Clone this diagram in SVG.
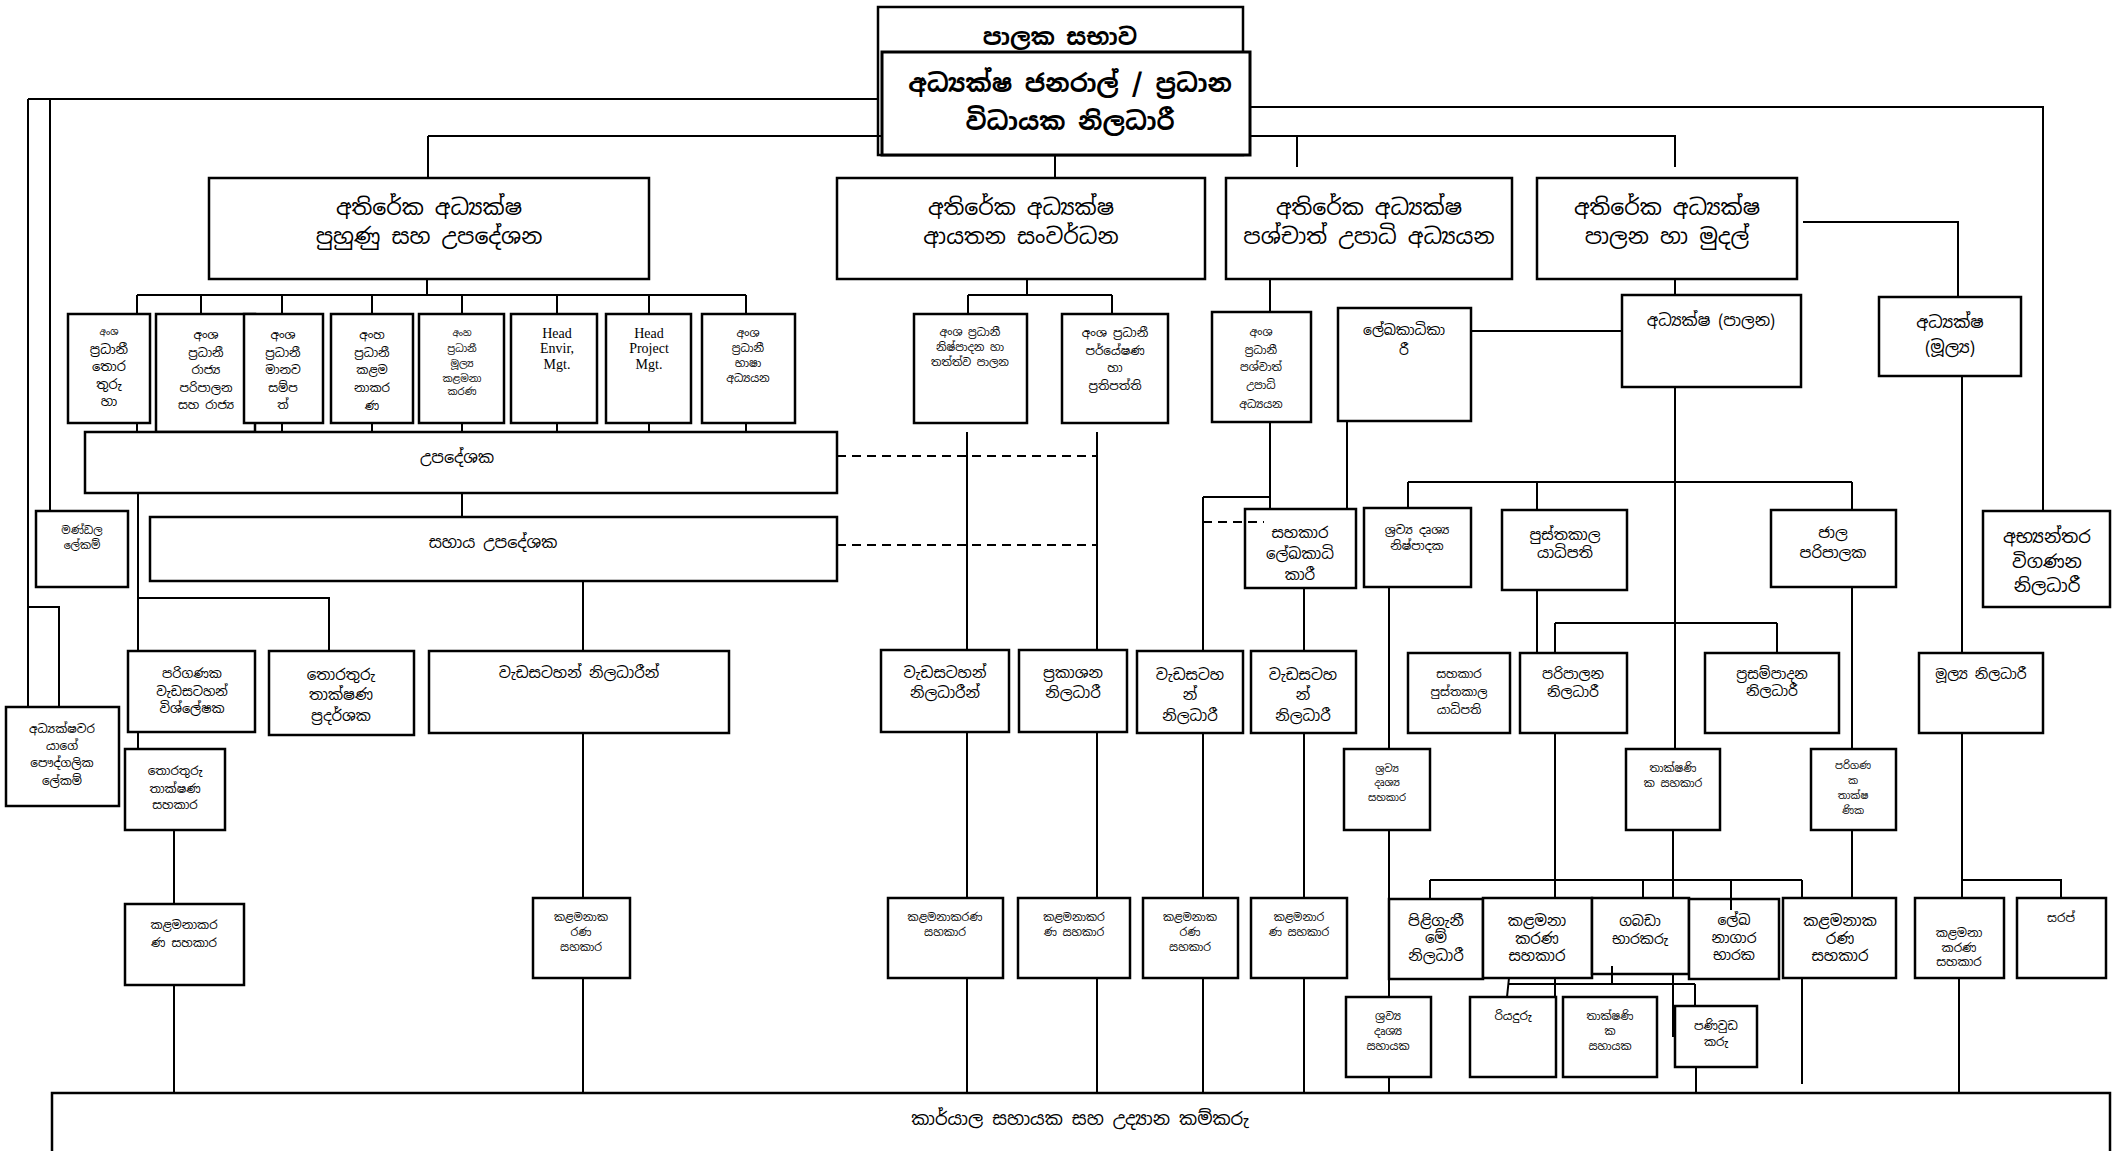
<svg xmlns="http://www.w3.org/2000/svg" width="2119" height="1151" viewBox="0 0 2119 1151">
<style>
.box{fill:#fff;stroke:#000;stroke-width:2.5}
.c{fill:none;stroke:#000;stroke-width:2}
.d{fill:none;stroke:#000;stroke-width:2;stroke-dasharray:9 6}
text{font-family:"Noto Sans Sinhala","Noto Serif Sinhala","Iskoola Pota","Noto Sans",sans-serif;text-anchor:middle;dominant-baseline:central;fill:#000}
.en{font-family:"Liberation Serif","Times New Roman",serif}
.b{font-weight:bold}
.s9{font-size:9px}.s10{font-size:10px}.s11{font-size:11px}.s12{font-size:12px}.s13{font-size:13px}.s14{font-size:14px}.s15{font-size:15px}.s16{font-size:16px}.s17{font-size:17px}.s18{font-size:18px}.s22{font-size:22px}.s23{font-size:23px}.s25{font-size:25px}
</style>
<rect width="2119" height="1151" fill="#fff"/>
<g id="nodes">
<g id="n-board"><rect class="box" x="878" y="7" width="365" height="148"/><text class="b s23" x="1060" y="37">පාලක සභාව</text></g>
<g id="n-dg"><rect class="box" x="882" y="52" width="368" height="103" style="stroke-width:3"/><text class="b s25"><tspan x="1070" y="83">අධ්&#x200D;යක්ෂ ජනරාල් / ප්&#x200D;රධාන</tspan><tspan x="1070" y="121">විධායක නිලධාරී</tspan></text></g>
<g id="n-training"><rect class="box" x="209" y="178" width="440" height="101"/><text class="s22"><tspan x="429" y="207">අතිරේක අධ්&#x200D;යක්ෂ</tspan><tspan x="429" y="236">පුහුණු සහ උපදේශන</tspan></text></g>
<g id="n-instdev"><rect class="box" x="837" y="178" width="368" height="101"/><text class="s22"><tspan x="1021" y="207">අතිරේක අධ්&#x200D;යක්ෂ</tspan><tspan x="1021" y="236">ආයතන සංවර්ධන</tspan></text></g>
<g id="n-postgrad"><rect class="box" x="1226" y="178" width="286" height="101"/><text class="s22"><tspan x="1369" y="207">අතිරේක අධ්&#x200D;යක්ෂ</tspan><tspan x="1369" y="236">පශ්චාත් උපාධි අධ්&#x200D;යයන</tspan></text></g>
<g id="n-admfin"><rect class="box" x="1537" y="178" width="260" height="101"/><text class="s22"><tspan x="1667" y="207">අතිරේක අධ්&#x200D;යක්ෂ</tspan><tspan x="1667" y="236">පාලන හා මුදල්</tspan></text></g>
<g id="n-h-it"><rect class="box" x="68" y="314" width="82" height="109"/><text class="s13"><tspan x="109" y="332" class="s9">අංශ</tspan><tspan x="109" y="349">ප්&#x200D;රධානී</tspan><tspan x="109" y="366">තොර</tspan><tspan x="109" y="384">තුරු</tspan><tspan x="109" y="401">හා</tspan></text></g>
<g id="n-h-pubadm"><rect class="box" x="156" y="314" width="99" height="118"/><text class="s12"><tspan x="206" y="335">අංශ</tspan><tspan x="206" y="353">ප්&#x200D;රධානී</tspan><tspan x="206" y="370">රාජ්&#x200D;ය</tspan><tspan x="206" y="388">පරිපාලන</tspan><tspan x="206" y="405">සහ රාජ්&#x200D;ය</tspan></text></g>
<g id="n-h-hr"><rect class="box" x="244" y="314" width="79" height="109"/><text class="s12"><tspan x="283" y="335">අංශ</tspan><tspan x="283" y="353">ප්&#x200D;රධානී</tspan><tspan x="283" y="370">මානව</tspan><tspan x="283" y="388">සම්ප</tspan><tspan x="283" y="405">ත්</tspan></text></g>
<g id="n-h-mgmt"><rect class="box" x="331" y="314" width="82" height="109"/><text class="s12"><tspan x="372" y="335">අංහ</tspan><tspan x="372" y="353">ප්&#x200D;රධානී</tspan><tspan x="372" y="370">කළම</tspan><tspan x="372" y="388">නාකර</tspan><tspan x="372" y="406">ණ</tspan></text></g>
<g id="n-h-finmgmt"><rect class="box" x="419" y="314" width="85" height="109"/><text class="s10"><tspan x="462" y="333" class="s9">අංහ</tspan><tspan x="462" y="348">ප්&#x200D;රධානී</tspan><tspan x="462" y="363">මූල්&#x200D;ය</tspan><tspan x="462" y="378">කළමනා</tspan><tspan x="462" y="391">කරණ</tspan></text></g>
<g id="n-h-env"><rect class="box" x="511" y="314" width="86" height="109"/><text class="en s14"><tspan x="557" y="333">Head</tspan><tspan x="557" y="348">Envir,</tspan><tspan x="557" y="364">Mgt.</tspan></text></g>
<g id="n-h-proj"><rect class="box" x="606" y="314" width="85" height="109"/><text class="en s14"><tspan x="649" y="333">Head</tspan><tspan x="649" y="348">Project</tspan><tspan x="649" y="364">Mgt.</tspan></text></g>
<g id="n-h-lang"><rect class="box" x="702" y="314" width="93" height="109"/><text class="s11"><tspan x="748" y="333">අංශ</tspan><tspan x="748" y="348">ප්&#x200D;රධානී</tspan><tspan x="748" y="363">භාෂා</tspan><tspan x="748" y="378">අධ්&#x200D;යයන</tspan></text></g>
<g id="n-h-prodqc"><rect class="box" x="914" y="314" width="113" height="109"/><text class="s11"><tspan x="970" y="332">අංශ ප්&#x200D;රධානී</tspan><tspan x="970" y="347">නිෂ්පාදන හා</tspan><tspan x="970" y="362">තත්ත්ව පාලන</tspan></text></g>
<g id="n-h-research"><rect class="box" x="1062" y="314" width="106" height="109"/><text class="s12"><tspan x="1115" y="333">අංශ ප්&#x200D;රධානී</tspan><tspan x="1115" y="351">පර්යේෂණ</tspan><tspan x="1115" y="368">හා</tspan><tspan x="1115" y="386">ප්&#x200D;රතිපත්ති</tspan></text></g>
<g id="n-h-pg"><rect class="box" x="1212" y="312" width="99" height="110"/><text class="s11"><tspan x="1261" y="332">අංශ</tspan><tspan x="1261" y="350">ප්&#x200D;රධානී</tspan><tspan x="1261" y="367">පශ්චාත්</tspan><tspan x="1261" y="385">උපාධි</tspan><tspan x="1261" y="404">අධ්&#x200D;යයන</tspan></text></g>
<g id="n-registrar"><rect class="box" x="1338" y="308" width="133" height="113"/><text class="s14"><tspan x="1404" y="330">ලේඛකාධිකා</tspan><tspan x="1404" y="350">රී</tspan></text></g>
<g id="n-dir-adm"><rect class="box" x="1622" y="295" width="179" height="92"/><text class="s16" x="1711" y="320">අධ්&#x200D;යක්ෂ (පාලන)</text></g>
<g id="n-dir-fin"><rect class="box" x="1879" y="297" width="142" height="79"/><text class="s17"><tspan x="1950" y="322">අධ්&#x200D;යක්ෂ</tspan><tspan x="1950" y="347">(මූල්&#x200D;ය)</tspan></text></g>
<g id="n-consultant"><rect class="box" x="85" y="432" width="752" height="61"/><text class="s16" x="457" y="457">උපදේශක</text></g>
<g id="n-asst-consultant"><rect class="box" x="150" y="517" width="687" height="64"/><text class="s16" x="493" y="542">සහාය උපදේශක</text></g>
<g id="n-board-sec"><rect class="box" x="36" y="511" width="92" height="76"/><text class="s11"><tspan x="82" y="530">මණ්ඩල</tspan><tspan x="82" y="545">ලේකම්</tspan></text></g>
<g id="n-ps"><rect class="box" x="6" y="707" width="113" height="99"/><text class="s12"><tspan x="62" y="729">අධ්&#x200D;යක්ෂවර</tspan><tspan x="62" y="746">යාගේ</tspan><tspan x="62" y="763">පෞද්ගලික</tspan><tspan x="62" y="781">ලේකම්</tspan></text></g>
<g id="n-sysanalyst"><rect class="box" x="128" y="651" width="127" height="81"/><text class="s13"><tspan x="192" y="673">පරිගණක</tspan><tspan x="192" y="691">වැඩසටහන්</tspan><tspan x="192" y="708">විශ්ලේෂක</tspan></text></g>
<g id="n-itdemo"><rect class="box" x="269" y="651" width="145" height="84"/><text class="s15"><tspan x="341" y="674">තොරතුරු</tspan><tspan x="341" y="694">තාක්ෂණ</tspan><tspan x="341" y="715">ප්&#x200D;රදර්ශක</tspan></text></g>
<g id="n-progoff1"><rect class="box" x="429" y="651" width="300" height="82"/><text class="s15" x="579" y="672">වැඩසටහන් නිලධාරීන්</text></g>
<g id="n-progoff2"><rect class="box" x="881" y="650" width="128" height="82"/><text class="s15"><tspan x="945" y="672">වැඩසටහන්</tspan><tspan x="945" y="692">නිලධාරීන්</tspan></text></g>
<g id="n-puboff"><rect class="box" x="1019" y="650" width="108" height="82"/><text class="s15"><tspan x="1073" y="672">ප්&#x200D;රකාශන</tspan><tspan x="1073" y="692">නිලධාරී</tspan></text></g>
<g id="n-asst-reg"><rect class="box" x="1245" y="509" width="111" height="79"/><text class="s15"><tspan x="1300" y="532">සහකාර</tspan><tspan x="1300" y="553">ලේඛකාධි</tspan><tspan x="1300" y="574">කාරී</tspan></text></g>
<g id="n-progoff3"><rect class="box" x="1137" y="651" width="106" height="82"/><text class="s15"><tspan x="1190" y="674">වැඩසටහ</tspan><tspan x="1190" y="694">න්</tspan><tspan x="1190" y="715">නිලධාරී</tspan></text></g>
<g id="n-progoff4"><rect class="box" x="1251" y="651" width="105" height="82"/><text class="s15"><tspan x="1303" y="674">වැඩසටහ</tspan><tspan x="1303" y="694">න්</tspan><tspan x="1303" y="715">නිලධාරී</tspan></text></g>
<g id="n-avprod"><rect class="box" x="1364" y="508" width="107" height="79"/><text class="s12"><tspan x="1417" y="530">ශ්&#x200D;රව්&#x200D;ය දෘශ්&#x200D;ය</tspan><tspan x="1417" y="546">නිෂ්පාදක</tspan></text></g>
<g id="n-librarian"><rect class="box" x="1502" y="510" width="125" height="80"/><text class="s15"><tspan x="1565" y="534">පුස්තකාල</tspan><tspan x="1565" y="552">යාධිපති</tspan></text></g>
<g id="n-netadmin"><rect class="box" x="1771" y="510" width="125" height="77"/><text class="s15"><tspan x="1833" y="532">ජාල</tspan><tspan x="1833" y="552">පරිපාලක</tspan></text></g>
<g id="n-auditor"><rect class="box" x="1983" y="511" width="127" height="96"/><text class="s18"><tspan x="2047" y="536">අභ්&#x200D;යන්තර</tspan><tspan x="2047" y="561">විගණන</tspan><tspan x="2047" y="585">නිලධාරී</tspan></text></g>
<g id="n-asst-lib"><rect class="box" x="1408" y="653" width="102" height="80"/><text class="s12"><tspan x="1459" y="674">සහකාර</tspan><tspan x="1459" y="692">පුස්තකාල</tspan><tspan x="1459" y="710">යාධිපති</tspan></text></g>
<g id="n-adminoff"><rect class="box" x="1520" y="653" width="107" height="80"/><text class="s14"><tspan x="1573" y="674">පරිපාලන</tspan><tspan x="1573" y="692">නිලධාරී</tspan></text></g>
<g id="n-procure"><rect class="box" x="1705" y="653" width="134" height="80"/><text class="s14"><tspan x="1772" y="674">ප්&#x200D;රසම්පාදන</tspan><tspan x="1772" y="691">නිලධාරී</tspan></text></g>
<g id="n-finoff"><rect class="box" x="1919" y="653" width="124" height="80"/><text class="s14" x="1981" y="674">මූල්&#x200D;ය නිලධාරී</text></g>
<g id="n-itasst"><rect class="box" x="125" y="749" width="100" height="81"/><text class="s12"><tspan x="175" y="771">තොරතුරු</tspan><tspan x="175" y="789">තාක්ෂණ</tspan><tspan x="175" y="805">සහකාර</tspan></text></g>
<g id="n-avasst"><rect class="box" x="1344" y="749" width="86" height="81"/><text class="s10"><tspan x="1387" y="768">ශ්&#x200D;රව්&#x200D;ය</tspan><tspan x="1387" y="782">දෘශ්&#x200D;ය</tspan><tspan x="1387" y="797">සහකාර</tspan></text></g>
<g id="n-techasst"><rect class="box" x="1626" y="749" width="94" height="81"/><text class="s11"><tspan x="1673" y="768">තාක්ෂණි</tspan><tspan x="1673" y="783">ක සහකාර</tspan></text></g>
<g id="n-comptech"><rect class="box" x="1811" y="749" width="85" height="81"/><text class="s10"><tspan x="1853" y="765">පරිගණ</tspan><tspan x="1853" y="780">ක</tspan><tspan x="1853" y="795">තාක්ෂ</tspan><tspan x="1853" y="810">ණික</tspan></text></g>
<g id="n-ma1"><rect class="box" x="125" y="904" width="119" height="81"/><text class="s12"><tspan x="184" y="925">කළමනාකර</tspan><tspan x="184" y="943">ණ සහකාර</tspan></text></g>
<g id="n-ma2"><rect class="box" x="533" y="898" width="97" height="80"/><text class="s11"><tspan x="581" y="917">කළමනාක</tspan><tspan x="581" y="932">රණ</tspan><tspan x="581" y="947">සහකාර</tspan></text></g>
<g id="n-ma3"><rect class="box" x="888" y="898" width="115" height="80"/><text class="s11"><tspan x="945" y="917">කළමනාකරණ</tspan><tspan x="945" y="932">සහකාර</tspan></text></g>
<g id="n-ma4"><rect class="box" x="1018" y="898" width="112" height="80"/><text class="s11"><tspan x="1074" y="917">කළමනාකර</tspan><tspan x="1074" y="932">ණ සහකාර</tspan></text></g>
<g id="n-ma5"><rect class="box" x="1143" y="898" width="95" height="80"/><text class="s11"><tspan x="1190" y="917">කළමනාක</tspan><tspan x="1190" y="932">රණ</tspan><tspan x="1190" y="947">සහකාර</tspan></text></g>
<g id="n-ma6"><rect class="box" x="1251" y="898" width="96" height="80"/><text class="s11"><tspan x="1299" y="917">කළමනාර</tspan><tspan x="1299" y="932">ණ සහකාර</tspan></text></g>
<g id="n-reception"><rect class="box" x="1389" y="899" width="94" height="80"/><text class="s15"><tspan x="1436" y="920">පිළිගැනී</tspan><tspan x="1436" y="937">මේ</tspan><tspan x="1436" y="955">නිලධාරී</tspan></text></g>
<g id="n-ma7"><rect class="box" x="1483" y="898" width="109" height="80"/><text class="s15"><tspan x="1537" y="920">කළමනා</tspan><tspan x="1537" y="938">කරණ</tspan><tspan x="1537" y="955">සහකාර</tspan></text></g>
<g id="n-storekeeper"><rect class="box" x="1592" y="898" width="97" height="76"/><text class="s14"><tspan x="1640" y="921">ගබඩා</tspan><tspan x="1640" y="939">භාරකරු</tspan></text></g>
<g id="n-archivist"><rect class="box" x="1689" y="899" width="90" height="80"/><text class="s14"><tspan x="1734" y="920">ලේඛ</tspan><tspan x="1734" y="938">නාගාර</tspan><tspan x="1734" y="955">භාරක</tspan></text></g>
<g id="n-ma8"><rect class="box" x="1783" y="898" width="113" height="80"/><text class="s15"><tspan x="1840" y="920">කළමනාක</tspan><tspan x="1840" y="938">රණ</tspan><tspan x="1840" y="955">සහකාර</tspan></text></g>
<g id="n-ma9"><rect class="box" x="1915" y="898" width="89" height="80"/><text class="s12"><tspan x="1959" y="933">කළමනා</tspan><tspan x="1959" y="948">කරණ</tspan><tspan x="1959" y="962">සහකාර</tspan></text></g>
<g id="n-saraf"><rect class="box" x="2017" y="898" width="89" height="80"/><text class="s12" x="2061" y="918">සරප්</text></g>
<g id="n-avaid"><rect class="box" x="1346" y="997" width="85" height="80"/><text class="s11"><tspan x="1388" y="1016">ශ්&#x200D;රව්&#x200D;ය</tspan><tspan x="1388" y="1031">දෘශ්&#x200D;ය</tspan><tspan x="1388" y="1046">සහායක</tspan></text></g>
<g id="n-driver"><rect class="box" x="1470" y="997" width="86" height="80"/><text class="s12" x="1513" y="1016">රියදුරු</text></g>
<g id="n-techaid"><rect class="box" x="1563" y="997" width="94" height="80"/><text class="s11"><tspan x="1610" y="1016">තාක්ෂණි</tspan><tspan x="1610" y="1031">ක</tspan><tspan x="1610" y="1046">සහායක</tspan></text></g>
<g id="n-messenger"><rect class="box" x="1675" y="1006" width="82" height="61"/><text class="s12"><tspan x="1716" y="1026">පණිවුඩ</tspan><tspan x="1716" y="1042">කරු</tspan></text></g>
<g id="n-officeaides"><rect class="box" x="52" y="1093" width="2058" height="80"/><text class="s18" x="1080" y="1118">කාර්යාල සහායක සහ උද්&#x200D;යාන කම්කරු</text></g>
</g>
<g id="connectors">
<path class="c" d="M28,99H878M28,99V707M50,99V511M28,607H59V707"/>
<path class="c" d="M428,136H882M428,136V178"/>
<path class="c" d="M1250,107H2043V511"/>
<path class="c" d="M1250,136H1675V167M1297,136V167M1055,155V178"/>
<path class="c" d="M427,279V295M137,295H746M137,295V314M201,295V314M282,295V314M372,295V314M462,295V314M557,295V314M649,295V314M746,295V314"/>
<path class="c" d="M137,423V432M282,423V432M372,423V432M462,423V432M557,423V432M649,423V432M746,423V432"/>
<path class="c" d="M462,493V517M138,493V651M138,598H329V651M138,732V749M174,830V904M174,985V1093"/>
<path class="c" d="M583,581V651M583,733V898M583,978V1093"/>
<path class="c" d="M1027,279V295M968,295H1112M968,295V314M1112,295V314"/>
<path class="c" d="M967,432V650M1097,432V650M967,732V898M967,978V1093M1097,732V898M1097,978V1093"/>
<path class="c" d="M1270,279V312M1270,422V509M1203,497H1270M1203,497V651M1347,421V509"/>
<path class="c" d="M1304,588V651M1304,733V898M1304,978V1093M1203,733V898M1203,978V1093"/>
<path class="c" d="M1471,331H1622M1675,279V295M1675,387V749M1803,222H1958V297"/>
<path class="c" d="M1408,482H1852M1408,482V508M1537,482V510M1852,482V510M1537,590V653"/>
<path class="c" d="M1555,623H1777M1555,623V653M1777,623V653"/>
<path class="c" d="M1389,587V749M1389,830V997M1389,1077V1093"/>
<path class="c" d="M1555,733V898M1430,880H1802M1430,880V899M1643,880V898M1673,830V898M1731,880V910M1802,880V898"/>
<path class="c" d="M1852,587V749M1852,830V898"/>
<path class="c" d="M1509,978L1507,997M1508,984H1695M1555,978V997M1612,966V984M1695,984V1006M1673,974V1037M1696,1067V1093M1802,978V1084"/>
<path class="c" d="M1962,376V653M1962,733V898M1962,880H2061V898M1959,978V1093"/>
<path class="d" d="M837,456H1097M837,545H1097M1203,522H1264"/>
</g>
</svg>
